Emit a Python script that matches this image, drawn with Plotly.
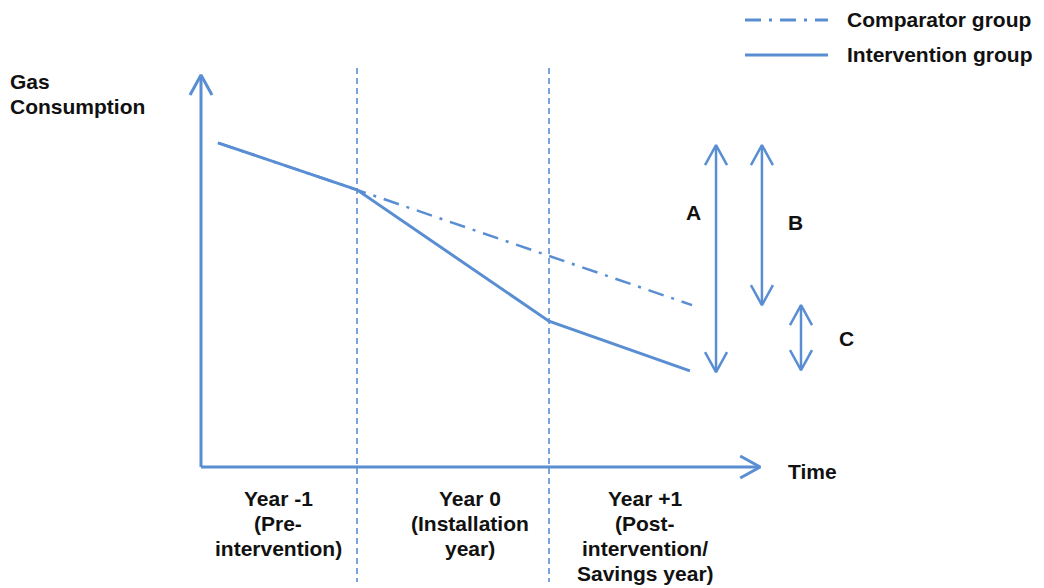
import plotly.graph_objects as go

BLUE = "#5A8ED2"
FONT = "Liberation Sans, Arial, sans-serif"

# ---- data (time in years: 0 = start of installation year; gas in arbitrary units) ----
boundaries = [0.0, 1.0]
year_labels = [["Year -1", "(Pre-", "intervention)"],
               ["Year 0", "(Installation", "year)"],
               ["Year +1", "(Post-", "intervention/", "Savings year)"]]
label_t = [-0.41, 0.59, 1.50]

comp_t = [-0.724, 0.0, 1.745]
comp_g = [8.27, 7.07, 4.13]
int_t = [-0.724, 0.0, 1.0, 1.734]
int_g = [8.27, 7.07, 3.72, 2.45]

arrow_names = ["A", "B", "C"]
arrow_t = [1.87, 2.109, 2.3125]
arrow_top = [8.21, 8.21, 4.13]
arrow_bot = [2.42, 4.13, 2.47]
arrow_label_t = [1.75, 2.286, 2.547]
arrow_label_g = [6.48, 6.25, 3.29]

axis_t0, axis_t1 = -0.8125, 2.10
axis_g0, axis_g1 = 0.0, 10.0

y_title = ["Gas", "Consumption"]
x_title = "Time"
legend_names = ["Comparator group", "Intervention group"]

# ---- page scale (pixels per unit) used for axis ranges and arrow-head sizes ----
SX, SY = 192.0, 39.2
X0, Y0 = 357, 467          # page pixel of t=0, g=0
PAD = 8                    # browser body margin
W, H = 1044 - PAD, 588 - PAD
XR = [(PAD - X0) / SX, (1044 - X0) / SX]
YR = [(Y0 - 588) / SY, (Y0 - PAD) / SY]


def tx(px):
    return (px - X0) / SX


def gy(py):
    return (Y0 - py) / SY


fig = go.Figure()


def line(xs, ys, width=3, dash="solid", color=BLUE):
    fig.add_trace(go.Scatter(x=xs, y=ys, mode="lines",
                             line=dict(color=color, width=width, dash=dash),
                             hoverinfo="skip", showlegend=False))


def head(t, g, direction, width=2.5, half=11, length=20):
    if direction == "up":
        xs = [t - half / SX, t, t + half / SX]
        ys = [g - length / SY, g, g - length / SY]
    elif direction == "down":
        xs = [t - half / SX, t, t + half / SX]
        ys = [g + length / SY, g, g + length / SY]
    else:  # right
        xs = [t - length / SX, t, t - length / SX]
        ys = [g + half / SY, g, g - half / SY]
    line(xs, ys, width=width)


# vertical year boundaries
for b in boundaries:
    line([b, b], [gy(68), gy(582)], width=1.6, dash="6px,4px")

# axes
line([axis_t0, axis_t0], [axis_g0, axis_g1], width=3)
head(axis_t0, axis_g1, "up", width=3)
line([axis_t0, axis_t1], [axis_g0, axis_g0], width=3)
head(axis_t1, axis_g0, "right", width=3)

# series
line(int_t, int_g, width=3)
line(comp_t, comp_g, width=2.5, dash="16px,8px,3px,8px")

# difference arrows
for t, top, bot in zip(arrow_t, arrow_top, arrow_bot):
    line([t, t], [bot, top], width=2.5)
    head(t, top, "up")
    head(t, bot, "down")

# legend (manual)
leg_t = [tx(745), tx(828)]
leg_g = [gy(20), gy(55)]
line(leg_t, [leg_g[0]] * 2, width=3, dash="16px,8px,3px,8px")
line(leg_t, [leg_g[1]] * 2, width=3)

ann = []
tf = dict(family=FONT, size=21, color="#111111", weight="bold")


def text(x, y, s, xanchor="center", xref="x"):
    ann.append(dict(x=x, y=y, xref=xref, text=s, xanchor=xanchor, yanchor="middle",
                    showarrow=False, font=tf))


for s, g in zip(legend_names, leg_g):
    text(tx(845), g + 1 / SY, s, "left")
for name, t, g in zip(arrow_names, arrow_label_t, arrow_label_g):
    text(t, g, name)
for lines, t in zip(year_labels, label_t):
    for i, s in enumerate(lines):
        text(t, gy(498 + 25 * i), s)
for i, s in enumerate(y_title):
    text(0, gy(81 + 25 * i), s, "left", xref="paper")
text(tx(786), gy(471), x_title, "left")

fig.update_layout(
    width=W, height=H,
    margin=dict(l=0, r=0, t=0, b=0),
    paper_bgcolor="white", plot_bgcolor="white",
    xaxis=dict(range=XR, visible=False, fixedrange=True),
    yaxis=dict(range=YR, visible=False, fixedrange=True),
    annotations=ann,
    showlegend=False,
)

fig.write_html("out.html")
